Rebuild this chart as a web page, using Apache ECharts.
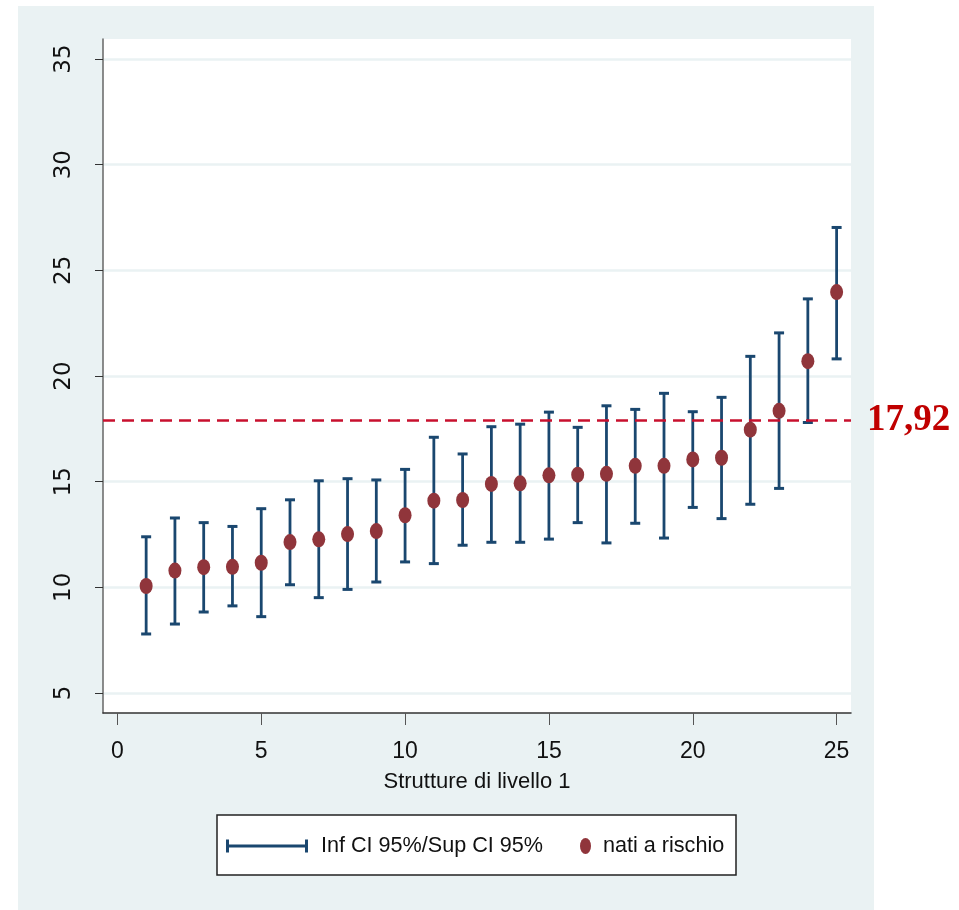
<!DOCTYPE html>
<html>
<head>
<meta charset="utf-8">
<script src="https://cdn.jsdelivr.net/npm/echarts@6/dist/echarts.min.js"></script>
<style>
  html, body { margin: 0; padding: 0; background: #ffffff; }
  #panel { position: absolute; left: 18px; top: 6px; width: 856px; height: 904px; background: #eaf2f3; }
  #chart { position: absolute; left: 0; top: 0; width: 959px; height: 910px; }
</style>
</head>
<body>
<div id="panel"></div>
<div id="chart"></div>
<script>
// ---- data ----
var structures = [1, 2, 3, 4, 5, 6, 7, 8, 9, 10, 11, 12, 13, 14, 15, 16, 17, 18, 19, 20, 21, 22, 23, 24, 25];
var natiRischio = [10.06, 10.79, 10.95, 10.97, 11.16, 12.14, 12.27, 12.52, 12.66, 13.41, 14.10, 14.13, 14.89, 14.92, 15.30, 15.33, 15.37, 15.75, 15.75, 16.05, 16.13, 17.46, 18.35, 20.70, 23.97];
var infCI = [7.79, 8.26, 8.83, 9.12, 8.61, 10.12, 9.51, 9.90, 10.25, 11.20, 11.12, 11.99, 12.13, 12.13, 12.28, 13.06, 12.10, 13.03, 12.33, 13.78, 13.25, 13.93, 14.68, 17.80, 20.81];
var supCI = [12.39, 13.28, 13.06, 12.88, 13.72, 14.14, 15.04, 15.14, 15.08, 15.58, 17.10, 16.31, 17.60, 17.72, 18.29, 17.57, 18.59, 18.42, 19.18, 18.31, 18.99, 20.93, 22.04, 23.65, 27.03];
var xTicks = [0, 5, 10, 15, 20, 25];
var yTicks = [5, 10, 15, 20, 25, 30, 35];
var referenceValue = 17.92;
var referenceLabel = '17,92';
var xTitle = 'Strutture di livello 1';
var ciName = 'Inf CI 95%/Sup CI 95%';
var pointName = 'nati a rischio';

// ---- styles ----
var NAVY = '#1a476f';
var MAROON = '#90353b';
var GRID_C = '#eaf2f3';
var SANS = '"Liberation Sans", Arial, sans-serif';
var ELLIPSE = 'path://M0,50A50,50 0 1,1 100,50A50,50 0 1,1 0,50Z';
var ERRICON = 'path://M0,0H3V5H79V0H82V13H79V8H3V13H0Z';

var ciData = structures.map(function (s, i) { return [s, infCI[i], supCI[i]]; });
var ptData = structures.map(function (s, i) { return [s, natiRischio[i]]; });

var chart = echarts.init(document.getElementById('chart'), null, { renderer: 'canvas' });

var option = {
  animation: false,
  backgroundColor: 'transparent',
  grid: {
    left: 103, top: 39, right: 108, bottom: 197,
    show: true, backgroundColor: '#ffffff', borderWidth: 0
  },
  xAxis: {
    type: 'value', min: -0.5, max: 25.5,
    name: xTitle, nameLocation: 'middle', nameGap: 58,
    nameTextStyle: { fontFamily: SANS, fontSize: 22, color: '#111' },
    axisLine: { show: true, onZero: false, lineStyle: { color: '#333', width: 1.5 } },
    axisTick: { show: true, length: 12, customValues: xTicks, lineStyle: { color: '#555', width: 1 } },
    axisLabel: { customValues: xTicks, margin: 27, fontFamily: SANS, fontSize: 23, color: '#111' },
    splitLine: { show: false }
  },
  yAxis: {
    type: 'value', min: 4.05, max: 35.95,
    axisLine: { show: true, onZero: false, lineStyle: { color: '#666', width: 1.5 } },
    axisTick: { show: true, length: 8, customValues: yTicks, lineStyle: { color: '#333', width: 1 } },
    axisLabel: { customValues: yTicks, rotate: 90, margin: 27, fontFamily: '"DejaVu Sans", sans-serif', fontSize: 23, color: '#111' },
    splitLine: { show: true, lineStyle: { color: GRID_C, width: 2.5 } }
  },
  legend: [
    {
      data: [{ name: ciName, icon: ERRICON }],
      left: 226, top: 831, padding: 0,
      itemWidth: 82, itemHeight: 13, symbolKeepAspect: false,
      selectedMode: false,
      textStyle: { fontFamily: SANS, fontSize: 21.6, color: '#111', padding: [0, 0, 0, 8], lineHeight: 30 }
    },
    {
      data: [{ name: pointName, icon: ELLIPSE }],
      left: 580, top: 831, padding: 0,
      itemWidth: 11, itemHeight: 16, symbolKeepAspect: false,
      selectedMode: false,
      textStyle: { fontFamily: SANS, fontSize: 21.6, color: '#111', padding: [0, 0, 0, 7], lineHeight: 30 }
    }
  ],
  graphic: [
    {
      type: 'rect', z: 1,
      shape: { x: 217, y: 815, width: 519, height: 60 },
      style: { fill: '#ffffff', stroke: '#222', lineWidth: 1.5 }
    }
  ],
  series: [
    {
      name: ciName,
      type: 'custom',
      data: ciData,
      itemStyle: { color: NAVY },
      encode: { x: 0, y: [1, 2] },
      renderItem: function (params, api) {
        var x = api.value(0);
        var pLo = api.coord([x, api.value(1)]);
        var pHi = api.coord([x, api.value(2)]);
        var hw = 5;
        var capStyle = { stroke: NAVY, lineWidth: 3, fill: null };
        return {
          type: 'group',
          children: [
            { type: 'line', shape: { x1: pHi[0], y1: pHi[1], x2: pLo[0], y2: pLo[1] }, style: { stroke: NAVY, lineWidth: 2.8 } },
            { type: 'line', shape: { x1: pHi[0] - hw, y1: pHi[1], x2: pHi[0] + hw, y2: pHi[1] }, style: capStyle },
            { type: 'line', shape: { x1: pLo[0] - hw, y1: pLo[1], x2: pLo[0] + hw, y2: pLo[1] }, style: capStyle }
          ]
        };
      }
    },
    {
      name: pointName,
      type: 'scatter',
      data: ptData,
      symbol: ELLIPSE,
      symbolSize: [13, 16],
      itemStyle: { color: MAROON, opacity: 1 },
      z: 3,
      markLine: {
        silent: true,
        symbol: ['none', 'none'],
        lineStyle: { color: '#c8102e', width: 2.6, type: [12, 7] },
        label: {
          show: true, position: 'end', formatter: referenceLabel,
          fontFamily: '"Liberation Serif", "DejaVu Serif", serif', fontWeight: 'bold',
          fontSize: 37, color: '#c00000', distance: 16, padding: [0, 0, 12, 0]
        },
        data: [{ yAxis: referenceValue }]
      }
    }
  ]
};
chart.setOption(option);
</script>
</body>
</html>
